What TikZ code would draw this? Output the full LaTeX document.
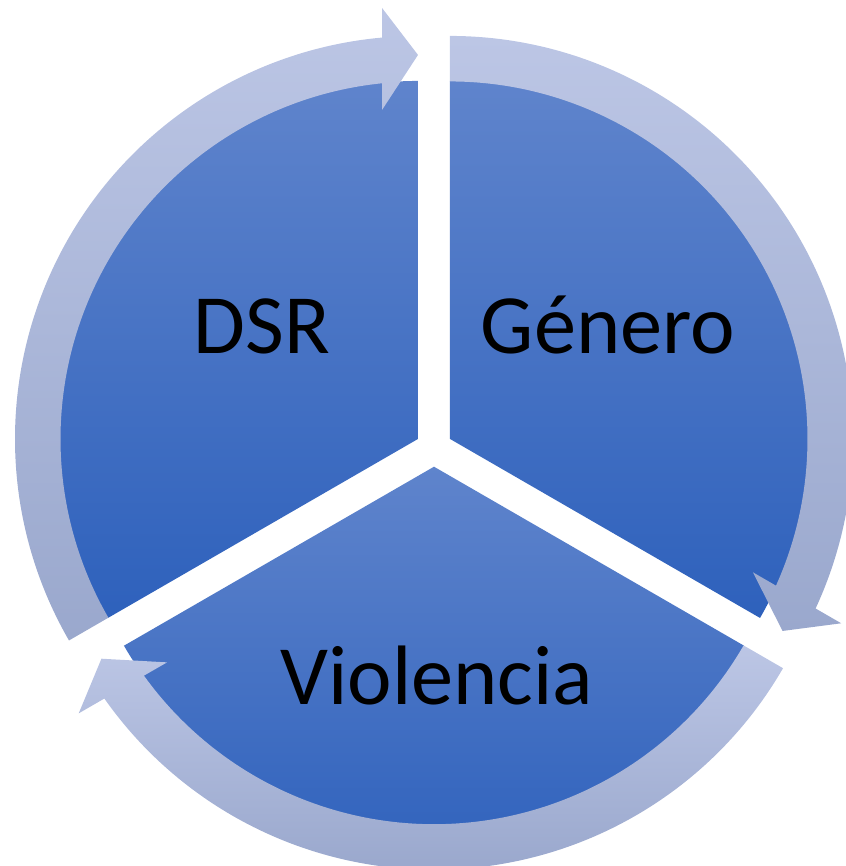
\documentclass[tikz,border=0pt]{standalone}
\usepackage{fontspec}
\setmainfont{Carlito}
\usepackage{tikz}
\usetikzlibrary{positioning}
\usepackage{xcolor}
\definecolor{slicetop}{HTML}{5F84CC}
\definecolor{slicebot}{HTML}{2E61BC}
\definecolor{ringtop}{HTML}{BCC6E5}
\definecolor{ringbot}{HTML}{9AA8CD}

\begin{document}
\begin{tikzpicture}[x=0.03cm,y=0.03cm,
  slice/.style={top color=slicetop,bottom color=slicebot,draw=none},
  ringarrow/.style={top color=ringtop,bottom color=ringbot,draw=none},
  label/.style={anchor=base,font=\fontsize{72}{86}\selectfont,text=black}]
\useasboundingbox (-434,-417.8) rectangle (412,448.2);
% pie slices
\path[slice,shift={(-16,9.25)}] (0,0) -- (90:358) arc[start angle=90,end angle=210,radius=358] -- cycle;
\path[slice,shift={(16,9.25)}] (0,0) -- (90:358) arc[start angle=90,end angle=-30,radius=358] -- cycle;
\path[slice,shift={(0,-18.5)}] (0,0) -- (-30:358) arc[start angle=-30,end angle=-150,radius=358] -- cycle;
% ring arrows
\path[ringarrow,shift={(-16,9.25)}] (210:357.5) -- (210:403)
  arc[start angle=210,end angle=95.12,radius=403] -- (94.77:432.5) -- (90:384)
  -- (96.24:331) -- (95.77:357.5) arc[start angle=95.77,end angle=210,radius=357.5] -- cycle;
\path[ringarrow,shift={(16,9.25)}] (90:357.5) -- (90:403)
  arc[start angle=90,end angle=-24.88,radius=403] -- (-25.23:432.5) -- (-30:384)
  -- (-23.76:331) -- (-24.23:357.5) arc[start angle=-24.23,end angle=90,radius=357.5] -- cycle;
\path[ringarrow,shift={(0,-18.5)}] (-30:357.5) -- (-30:403)
  arc[start angle=-30,end angle=-144.88,radius=403] -- (-145.23:432.5) -- (-150:384)
  -- (-143.76:331) -- (-144.23:357.5) arc[start angle=-144.23,end angle=-30,radius=357.5] -- cycle;
% labels
\node[label] (dsr) at (-172,94.2) {DSR};
\node[label] (genero) at (174,94.2) {Género};
\node[label] (violencia) at (3,-255.8) {Violencia};
\end{tikzpicture}
\end{document}
